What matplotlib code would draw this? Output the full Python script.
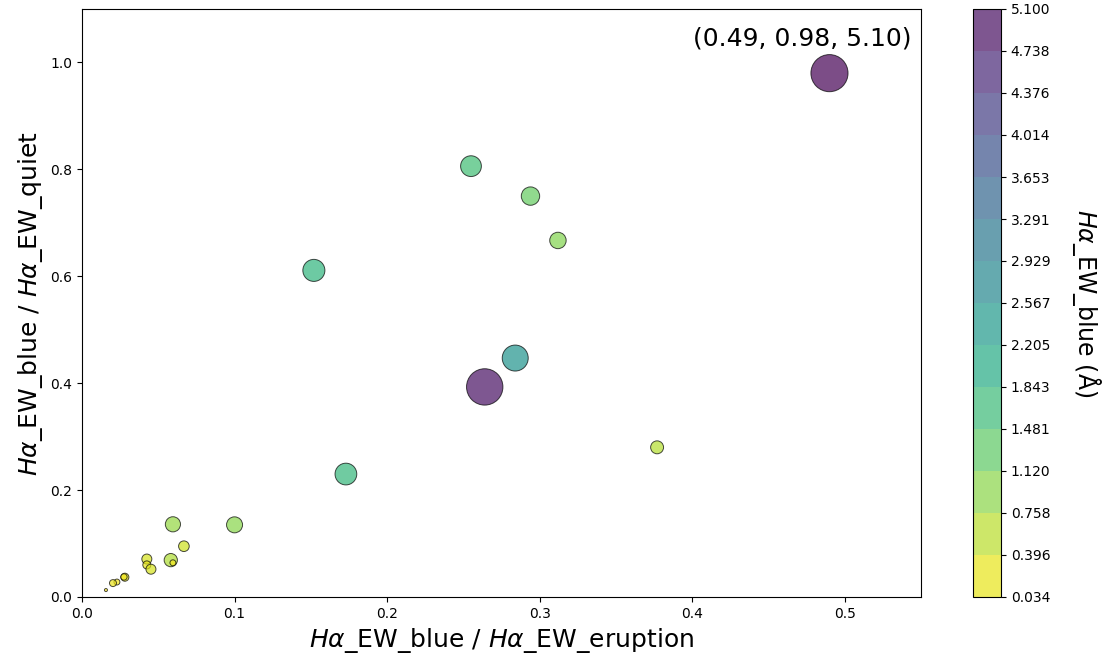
import numpy as np
import matplotlib.pyplot as plt
from matplotlib.colors import Normalize

ratio_eruption = [0.490, 0.255, 0.294, 0.312, 0.152, 0.284, 0.264, 0.173, 0.377,
                  0.100, 0.0596, 0.0668, 0.0582, 0.0596, 0.0425, 0.0425, 0.0452,
                  0.0281, 0.0275, 0.0229, 0.0203, 0.0157]
ratio_quiet = [0.980, 0.806, 0.750, 0.667, 0.611, 0.447, 0.393, 0.230, 0.280,
               0.135, 0.136, 0.095, 0.069, 0.064, 0.071, 0.060, 0.052,
               0.037, 0.0375, 0.028, 0.026, 0.013]
ew_blue = [5.10, 1.60, 1.25, 1.00, 1.80, 2.50, 4.90, 1.75, 0.62,
           0.95, 0.85, 0.42, 0.65, 0.13, 0.37, 0.24, 0.37,
           0.24, 0.15, 0.13, 0.18, 0.034]

x = np.array(ratio_eruption)
y = np.array(ratio_quiet)
v = np.array(ew_blue)

fig = plt.figure(figsize=(11.06, 6.59), dpi=100)
ax = fig.add_axes([82 / 1106, 62 / 659, 839 / 1106, 588 / 659])
cax = fig.add_axes([973 / 1106, 62 / 659, 28 / 1106, 588 / 659])

norm = Normalize(vmin=v.min(), vmax=v.max())
sc = ax.scatter(x, y, s=v * 140, c=v, cmap='viridis_r', norm=norm, alpha=0.7,
                edgecolors='k', linewidths=0.7)

ax.set_xlim(0, 0.55)
ax.set_ylim(0, 1.1)
ax.set_xlabel(r'$H\alpha$_EW_blue / $H\alpha$_EW_eruption', fontsize=18)
ax.set_ylabel(r'$H\alpha$_EW_blue / $H\alpha$_EW_quiet', fontsize=18)

# label the largest point
i = np.argmax(v)
ax.annotate(f'({x[i]:.2f}, {y[i]:.2f}, {v[i]:.2f})', (x[i], y[i]),
            xytext=(-27, 35), textcoords='offset pixels',
            ha='center', va='center', fontsize=18)

levels = np.linspace(v.min(), v.max(), 15)
cb = fig.colorbar(sc, cax=cax, boundaries=levels, ticks=levels, format='%.3f')
cb.set_label(r'$H\alpha$_EW_blue (Å)', fontsize=17, rotation=270, labelpad=38)

fig.savefig('out.png', dpi=100)
